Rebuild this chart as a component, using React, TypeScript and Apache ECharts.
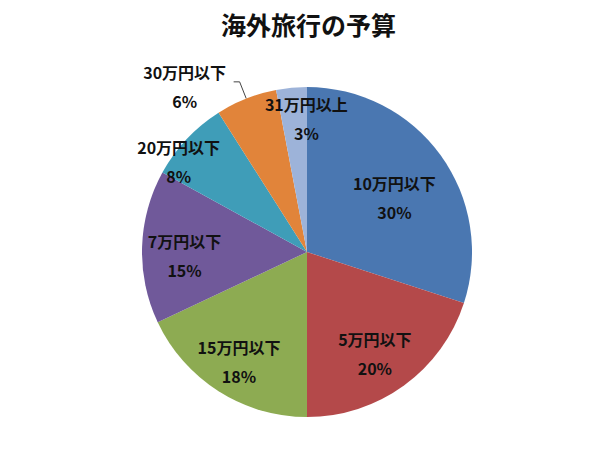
import { useEffect, useRef } from "react";
import * as echarts from "echarts";

const categories = ["10万円以下", "5万円以下", "15万円以下", "7万円以下", "20万円以下", "30万円以下", "31万円以上"];
const shares = [30, 20, 18, 15, 8, 6, 3];
const colors = ["#4a77b1", "#b4494a", "#8dab52", "#70599a", "#3f9db8", "#e1843a", "#9db3d9"];
// how far out each inside label sits, relative to ECharts' default half-radius spot
const labelPush = [1.22, 1.47, 1.55, 1.55, 1.77, 1, 1.57];
// small hand tweaks so the labels land where Excel put them
const labelNudge = [
  [3, 7],
  [-6, 0],
  [3, -2],
  [10, 8],
  [-18, 13],
  [-44, 5],
  [12, 0],
];

const W = 600;
const H = 457;
const CX = 307;
const CY = 252;

export default function App() {
  const ref = useRef<HTMLDivElement | null>(null);

  useEffect(() => {
    document.body.style.margin = "0";
    if (!ref.current) return;
    const chart = echarts.init(ref.current, undefined, { renderer: "svg" });

    const textStyle = {
      fontFamily: "'Noto Sans CJK JP', sans-serif",
      fontWeight: "bold" as const,
      color: "#111",
    };

    chart.setOption({
      animation: false,
      backgroundColor: "#fff",
      title: {
        text: "海外旅行の予算",
        left: 216,
        top: 6,
        textStyle: { ...textStyle, fontSize: 25 },
      },
      series: [
        {
          type: "pie",
          center: [CX, CY],
          radius: 165,
          startAngle: 90,
          clockwise: true,
          data: categories.map((name, i) => ({
            name,
            value: shares[i],
            itemStyle: { color: colors[i] },
            label:
              i === 5
                ? { position: "outside", alignTo: "none" }
                : { position: "inside" },
            labelLine:
              i === 5
                ? { show: true, length: 18, length2: 6, lineStyle: { color: "#444", width: 1 } }
                : { show: false },
          })),
          label: {
            ...textStyle,
            fontSize: 16,
            lineHeight: 29,
            align: "center",
            formatter: (p: any) => `${p.name}\n${p.value}%`,
          },
          labelLayout: (p: any) => {
            const i = p.dataIndex;
            const f = labelPush[i];
            const r = p.labelRect;
            const lx = r.x + r.width / 2;
            const ly = r.y + r.height / 2;
            const [nx, ny] = labelNudge[i];
            if (i === 5) return { align: "center", dx: nx, dy: ny };
            return { dx: (lx - CX) * (f - 1) + nx, dy: (ly - CY) * (f - 1) + ny };
          },
        },
      ],
    });

    return () => chart.dispose();
  }, []);

  return <div ref={ref} style={{ width: W, height: H }} />;
}
